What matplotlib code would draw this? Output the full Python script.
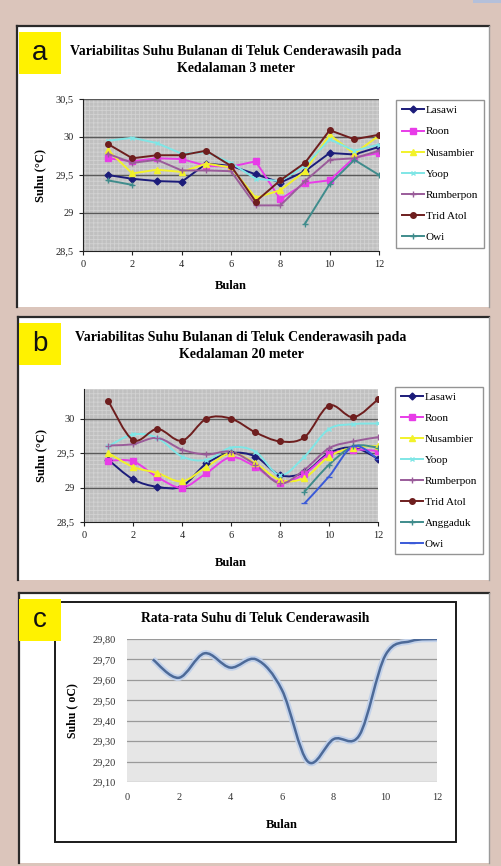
import numpy as np
import matplotlib
matplotlib.use('Agg')
import matplotlib.pyplot as plt
from matplotlib.patches import Rectangle, PathPatch
from matplotlib.path import Path
from matplotlib.lines import Line2D

plt.rcParams['font.family'] = ['Liberation Serif', 'DejaVu Serif']
plt.rcParams['hatch.linewidth'] = 0.6

W, H = 502, 866
nan = np.nan

bulan = np.arange(1, 13)

# ---- panel a : kedalaman 3 meter
lasawi_3 = [29.50, 29.45, 29.42, 29.41, 29.65, 29.62, 29.51, 29.40, 29.55, 29.79, 29.77, 29.87]
roon_3 = [29.72, 29.68, 29.72, 29.71, 29.62, 29.61, 29.68, 29.18, 29.39, 29.43, 29.73, 29.79]
nusambier_3 = [29.83, 29.52, 29.57, 29.54, 29.65, 29.60, 29.20, 29.30, 29.55, 30.03, 29.78, 30.02]
yoop_3 = [29.95, 29.99, 29.92, 29.78, 29.80, 29.66, 29.45, 29.42, 29.62, 29.97, 29.82, 29.90]
rumberpon_3 = [29.78, 29.66, 29.70, 29.56, 29.56, 29.55, 29.10, 29.10, 29.42, 29.70, 29.72, 29.82]
trid_3 = [29.91, 29.72, 29.76, 29.76, 29.82, 29.62, 29.15, 29.43, 29.66, 30.09, 29.97, 30.03]
owi_3 = [29.43, 29.37, nan, nan, nan, nan, nan, nan, 28.86, 29.38, 29.70, 29.50]

# ---- panel b : kedalaman 20 meter
lasawi_20 = [29.40, 29.12, 29.01, 29.02, 29.35, 29.50, 29.45, 29.18, 29.22, 29.50, 29.58, 29.42]
roon_20 = [29.39, 29.38, 29.15, 29.00, 29.21, 29.44, 29.30, 29.07, 29.20, 29.48, 29.55, 29.53]
nusambier_20 = [29.50, 29.30, 29.21, 29.09, 29.30, 29.50, 29.35, 29.11, 29.14, 29.45, 29.58, 29.60]
yoop_20 = [29.60, 29.77, 29.72, 29.45, 29.40, 29.58, 29.52, 29.18, 29.45, 29.85, 29.92, 29.93]
rumberpon_20 = [29.61, 29.63, 29.72, 29.55, 29.48, 29.52, 29.33, 29.06, 29.26, 29.57, 29.67, 29.73]
trid_20 = [30.25, 29.69, 29.85, 29.68, 30.00, 30.00, 29.80, 29.67, 29.73, 30.19, 30.02, 30.28]
anggaduk_20 = [nan] * 8 + [28.94, 29.33, 29.60, 29.58]
owi_20 = [nan] * 8 + [28.77, 29.16, 29.60, 29.41]

# ---- panel c : rata-rata
rata = [29.70, 29.61, 29.73, 29.66, 29.70, 29.55, 29.20, 29.31, 29.33, 29.72, 29.79, 29.80]

label_a = ['Lasawi', 'Roon', 'Nusambier', 'Yoop', 'Rumberpon', 'Trid Atol', 'Owi']
label_b = ['Lasawi', 'Roon', 'Nusambier', 'Yoop', 'Rumberpon', 'Trid Atol', 'Anggaduk', 'Owi']

yticks_ab = [28.5, 29.0, 29.5, 30.0, 30.5]
ytick_lbl_ab = ['28,5', '29', '29,5', '30', '30,5']
yticks_c = [29.1, 29.2, 29.3, 29.4, 29.5, 29.6, 29.7, 29.8]
ytick_lbl_c = ['29,10', '29,20', '29,30', '29,40', '29,50', '29,60', '29,70', '29,80']

judul_a = 'Variabilitas Suhu Bulanan di Teluk Cenderawasih pada\nKedalaman 3 meter'
judul_b = 'Variabilitas Suhu Bulanan di Teluk Cenderawasih pada\nKedalaman 20 meter'
judul_c = 'Rata-rata Suhu di Teluk Cenderawasih'

# excel 2003 style series (color, marker, size), in series order
gaya_seri = [
    ('#1c1c7a', 'D', 3.5),
    ('#e83ce8', 's', 4),
    ('#f2f22a', '^', 4),
    ('#7fe6e6', 'x', 3),
    ('#9a5c9a', '+', 4),
    ('#6e1e1e', 'o', 4),
    ('#3f8c8c', '+', 4),
    ('#3a5ad8', '_', 4),
]


def fx(x):
    return x / W


def fy(y):
    return 1 - y / H


def kotak_ax(x0, y0, x1, y1):
    return fig.add_axes([fx(x0), fy(y1), (x1 - x0) / W, (y1 - y0) / H])


def smooth_path(xs, ys):
    pts = [(x, y) for x, y in zip(xs, ys) if not np.isnan(y)]
    n = len(pts)
    verts = [pts[0]]
    codes = [Path.MOVETO]
    for i in range(n - 1):
        p0 = pts[i - 1] if i > 0 else pts[i]
        p1 = pts[i]
        p2 = pts[i + 1]
        p3 = pts[i + 2] if i + 2 < n else p2
        c1 = (p1[0] + (p2[0] - p0[0]) / 6, p1[1] + (p2[1] - p0[1]) / 6)
        c2 = (p2[0] - (p3[0] - p1[0]) / 6, p2[1] - (p3[1] - p1[1]) / 6)
        verts += [c1, c2, p2]
        codes += [Path.CURVE4] * 3
    return Path(verts, codes)


def panel(x0, y0, x1, y1):
    fig.add_artist(Rectangle((fx(x0), fy(y1)), (x1 - x0) / W, (y1 - y0) / H,
                             transform=fig.transFigure, facecolor='white',
                             edgecolor='none', zorder=-3))
    fig.add_artist(Line2D([fx(x0), fx(x1)], [fy(y0), fy(y0)], color='#2a2a2a', lw=1.6, zorder=-2))
    fig.add_artist(Line2D([fx(x0), fx(x0)], [fy(y0), fy(y1)], color='#2a2a2a', lw=1.6, zorder=-2))
    fig.add_artist(Line2D([fx(x1), fx(x1)], [fy(y0), fy(y1)], color='#9a9a9a', lw=1.0, zorder=-2))


def huruf(y0, teks):
    fig.add_artist(Rectangle((fx(19), fy(y0 + 42)), 42 / W, 42 / H,
                             transform=fig.transFigure, facecolor='#fff200',
                             edgecolor='none', zorder=-1))
    fig.text(fx(40), fy(y0 + 21), teks, ha='center', va='center', fontsize=20,
             family='Liberation Sans', color='#111111')


def excel_axes(ax, data, labels, smooth, ylim, yticks, ylabels, legend_xy, spacing, xpad):
    ax.set_facecolor('#c0c0c0')
    ax.add_patch(Rectangle((0, 0), 1, 1, transform=ax.transAxes, facecolor='none',
                           edgecolor='#d2d2d2', hatch='++++', lw=0, zorder=0.2))
    for t in yticks[1:]:
        ax.axhline(t, color='#5a5a5a', lw=1.0, zorder=0.5)
    handles = []
    for ys, (warna, mk, ms) in zip(data, gaya_seri):
        ys = np.array(ys, dtype=float)
        if smooth:
            ax.add_patch(PathPatch(smooth_path(bulan, ys), facecolor='none',
                                   edgecolor=warna, lw=1.4, zorder=2))
            ax.plot(bulan, ys, ls='none', marker=mk, ms=ms, color=warna, mew=1.0, zorder=3)
        else:
            ax.plot(bulan, ys, marker=mk, ms=ms, color=warna, lw=1.4, mew=1.0, zorder=2)
        handles.append(Line2D([], [], color=warna, marker=mk, ms=ms, lw=1.4, mew=1.0))
    ax.set_xlim(0, 12)
    ax.set_ylim(*ylim)
    ax.set_xticks([0, 2, 4, 6, 8, 10, 12])
    ax.set_yticks(yticks)
    ax.set_yticklabels(ylabels)
    ax.tick_params(labelsize=7.5, colors='#222222', length=3, width=0.8)
    for s in ['top', 'right']:
        ax.spines[s].set_visible(False)
    for s in ['left', 'bottom']:
        ax.spines[s].set_color('#222222')
    ax.set_xlabel('Bulan', fontsize=9, fontweight='bold', labelpad=xpad)
    ax.set_ylabel('Suhu (°C)', fontsize=9, fontweight='bold', labelpad=7)
    leg = ax.legend(handles, labels, loc='upper left', bbox_to_anchor=legend_xy,
                    bbox_transform=fig.transFigure, frameon=True, fancybox=False,
                    fontsize=8, handlelength=2.0, handletextpad=0.2,
                    labelspacing=spacing, borderpad=0.5, borderaxespad=0)
    leg.get_frame().set_edgecolor('#7a7a7a')
    leg.get_frame().set_linewidth(1.0)


fig = plt.figure(figsize=(W / 100, H / 100), dpi=100)
fig.patch.set_facecolor('#dbc5bb')
fig.add_artist(Rectangle((fx(473), fy(3)), 29 / W, 3 / H, transform=fig.transFigure,
                         facecolor='#b4c0da', edgecolor='none', zorder=-1))

# ---- a
panel(17, 26, 489, 307)
huruf(32, 'a')
ax_a = kotak_ax(83, 99, 379, 251)
excel_axes(ax_a, [lasawi_3, roon_3, nusambier_3, yoop_3, rumberpon_3, trid_3, owi_3],
           label_a, False, (28.5, 30.5), yticks_ab, ytick_lbl_ab, (fx(396), fy(100)),
           1.02, 8)
fig.text(fx(236), fy(60), judul_a, ha='center', va='center', fontsize=10,
         fontweight='bold', linespacing=1.35)

# ---- b
panel(18, 317, 489, 580)
huruf(323, 'b')
ax_b = kotak_ax(84, 389, 378, 522)
excel_axes(ax_b, [lasawi_20, roon_20, nusambier_20, yoop_20, rumberpon_20, trid_20,
                  anggaduk_20, owi_20],
           label_b, True, (28.5, 30.43), yticks_ab[:-1], ytick_lbl_ab[:-1],
           (fx(395), fy(387)), 1.0, 12)
fig.text(fx(241), fy(346), judul_b, ha='center', va='center', fontsize=10,
         fontweight='bold', linespacing=1.35)

# ---- c
panel(19, 593, 489, 863)
fig.add_artist(Rectangle((fx(55), fy(842)), (456 - 55) / W, (842 - 602) / H,
                         transform=fig.transFigure, facecolor='none',
                         edgecolor='#1a1a1a', lw=1.4, zorder=-2))
huruf(599, 'c')
ax_c = kotak_ax(127, 639, 437, 782)
ax_c.set_facecolor('#e6e6e6')
for t in yticks_c:
    ax_c.axhline(t, color='#9a9a9a', lw=0.9, zorder=0.5)
jalur = smooth_path(bulan, np.array(rata))
ax_c.add_patch(PathPatch(jalur, facecolor='none', edgecolor='#c3d2ea', lw=4.5, zorder=2))
ax_c.add_patch(PathPatch(jalur, facecolor='none', edgecolor='#4d6a98', lw=1.8, zorder=3))
ax_c.set_xlim(0, 12)
ax_c.set_ylim(29.1, 29.8)
ax_c.set_xticks([0, 2, 4, 6, 8, 10, 12])
ax_c.set_yticks(yticks_c)
ax_c.set_yticklabels(ytick_lbl_c)
ax_c.tick_params(labelsize=7.5, colors='#333333', length=0, pad=8)
for s in ax_c.spines.values():
    s.set_visible(False)
ax_c.set_xlabel('Bulan', fontsize=9, fontweight='bold', labelpad=12)
ax_c.set_ylabel('Suhu ( oC)', fontsize=8.5, fontweight='bold', labelpad=10)
fig.text(fx(255), fy(618), judul_c, ha='center', va='center', fontsize=9.8,
         fontweight='bold')

fig.savefig('out.png', dpi=100, facecolor=fig.get_facecolor())
